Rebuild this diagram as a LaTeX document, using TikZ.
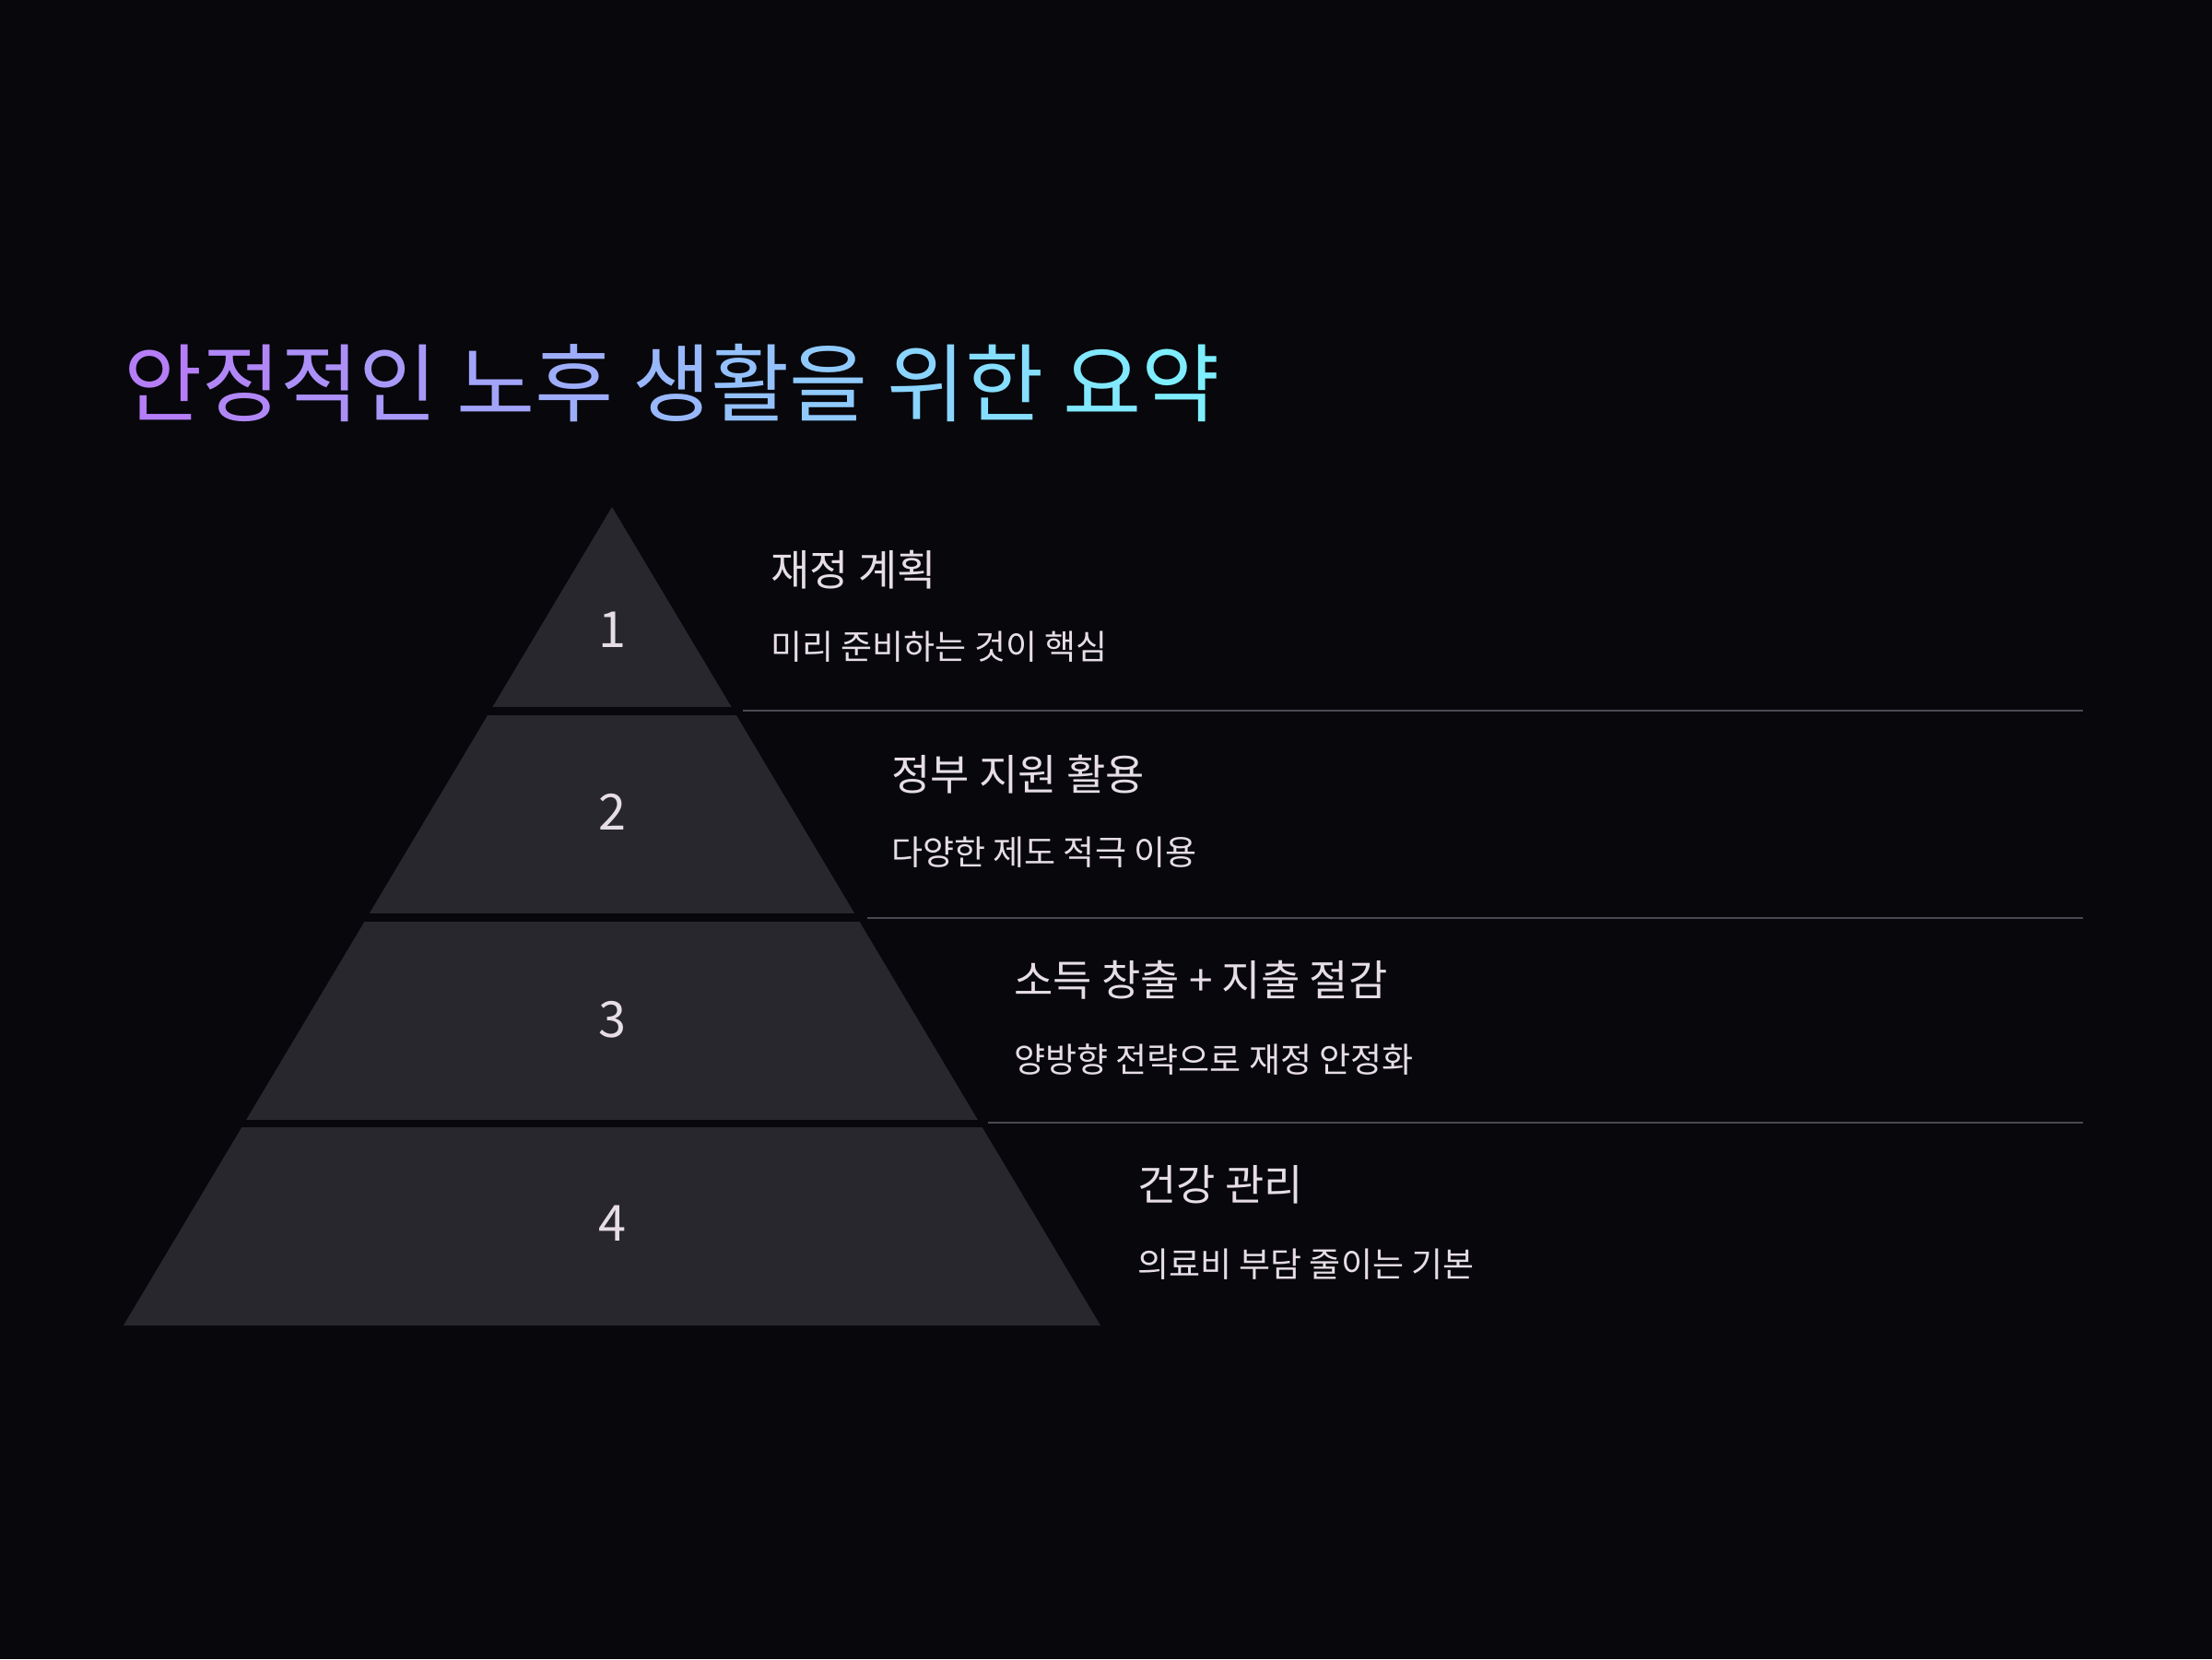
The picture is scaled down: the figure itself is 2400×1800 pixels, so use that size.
\documentclass[tikz,border=0pt]{standalone}
\usepackage{fontspec}
\setmainfont{Noto Sans CJK KR}
\newfontfamily\krfont{Noto Sans CJK KR}
\definecolor{bgc}{HTML}{07070C}
\definecolor{tierc}{HTML}{27272D}
\definecolor{txtc}{HTML}{E6DDE6}
\definecolor{linec}{HTML}{4A4A52}
\definecolor{tcA}{HTML}{B57EF6}
\definecolor{tcB}{HTML}{7EEEFF}
\newcommand\gch[2]{\textcolor{tcA!#1!tcB}{#2}}
\tikzset{
  tierfill/.style={fill=tierc},
  sepline/.style={draw=linec, line width=2pt},
  numlabel/.style={text=txtc, font=\krfont\fontsize{54}{60}\selectfont, inner sep=0pt},
  headlabel/.style={text=txtc, anchor=west, font=\krfont\fontsize{46}{52}\selectfont, inner sep=0pt},
  sublabel/.style={text=txtc, anchor=west, font=\krfont\fontsize{37}{42}\selectfont, inner sep=0pt},
}
\begin{document}
\begin{tikzpicture}[x=1pt,y=-1pt]
\fill[bgc] (0,0) rectangle (2400,1800);
\useasboundingbox (0,0) rectangle (2400,1800);
% title
\node[anchor=west, inner sep=0pt, font=\krfont\fontsize{92.5}{100}\selectfont] (title) at (134,416)
  {\gch{100}{안}\gch{92}{정}\gch{84}{적}\gch{76}{인} \gch{66}{노}\gch{58}{후} \gch{48}{생}\gch{40}{활}\gch{32}{을} \gch{22}{위}\gch{14}{한} \gch{5}{요}\gch{0}{약}};
% pyramid bands
\foreach \ya/\yb in {540/766, 776/990, 1000/1214, 1223/1438}{
  \begin{scope}
    \clip (0,\ya) rectangle (2400,\yb);
    \fill[tierfill] (664,550) -- (134,1438) -- (1194,1438) -- cycle;
  \end{scope}
}
% numbers
\node[numlabel] (n1) at (664,683) {1};
\node[numlabel] (n2) at (664,881) {2};
\node[numlabel] (n3) at (664,1106) {3};
\node[numlabel] (n4) at (664,1327) {4};
% separators
\coordinate (s1a) at (806,771);  \coordinate (s1b) at (2260,771);
\coordinate (s2a) at (941,996);  \coordinate (s2b) at (2260,996);
\coordinate (s3a) at (1072,1218); \coordinate (s3b) at (2260,1218);
\draw[sepline] (s1a) -- (s1b);
\draw[sepline] (s2a) -- (s2b);
\draw[sepline] (s3a) -- (s3b);
% texts
\node[headlabel] (h1) at (836,618) {재정 계획};
\node[sublabel] (d1) at (836,702) {미리 준비하는 것이 핵심};
\node[headlabel] (h2) at (967,840) {정부 지원 활용};
\node[sublabel] (d2) at (967,925) {다양한 제도 적극 이용};
\node[headlabel] (h3) at (1100,1063) {소득 창출 + 지출 절감};
\node[sublabel] (d3) at (1100,1149) {양방향 전략으로 재정 안정화};
\node[headlabel] (h4) at (1234,1285) {건강 관리};
\node[sublabel] (d4) at (1234,1372) {의료비 부담 줄이는 기본};
\end{tikzpicture}
\end{document}
